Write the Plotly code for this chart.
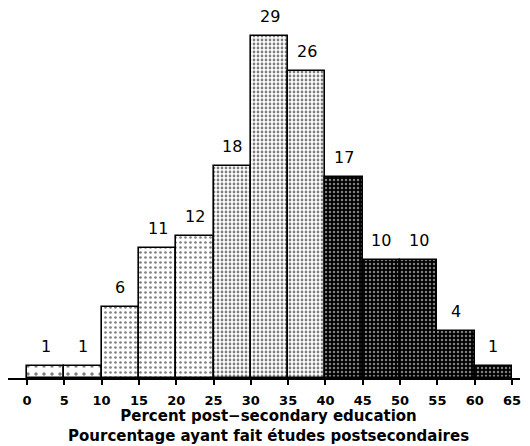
import plotly.graph_objects as go

bin_edges = [0, 5, 10, 15, 20, 25, 30, 35, 40, 45, 50, 55, 60, 65]
counts = [1, 1, 6, 11, 12, 18, 29, 26, 17, 10, 10, 4, 1]
tick_vals = [0, 5, 10, 15, 20, 25, 30, 35, 40, 45, 50, 55, 60, 65]
title_lines = ["Percent post\u2212secondary education",
               "Pourcentage ayant fait études postsecondaires"]

centers = [(a + b) / 2 for a, b in zip(bin_edges[:-1], bin_edges[1:])]
widths = [b - a for a, b in zip(bin_edges[:-1], bin_edges[1:])]

# shading groups: (lower bound inclusive, upper exclusive, bg, fg, tile size, solidity)
groups = [
    (0, 10, "white", "black", 8, 0.14),
    (10, 25, "white", "black", 5, 0.22),
    (25, 40, "white", "black", 4, 0.38),
    (40, 65, "black", "white", 4, 0.3),
]

FONT = "DejaVu Sans, sans-serif"
fig = go.Figure()
for lo, hi, bg, fg, size, sol in groups:
    idx = [i for i, e in enumerate(bin_edges[:-1]) if lo <= e < hi]
    fig.add_trace(go.Bar(
        x=[centers[i] for i in idx], y=[counts[i] for i in idx],
        width=[widths[i] for i in idx],
        marker=dict(
            color=bg,
            line=dict(color="black", width=1.6),
            pattern=dict(shape=".", bgcolor=bg, fgcolor=fg, size=size,
                         solidity=sol, fillmode="overlay"),
        ),
        hoverinfo="x+y",
    ))

for xc, c in zip(centers, counts):
    fig.add_annotation(x=xc, y=c, text=str(c), showarrow=False,
                       yanchor="bottom", yshift=8,
                       font=dict(family=FONT, size=16, color="black"))

fig.add_annotation(x=0.509, y=0, xref="paper", yref="paper",
                   text="<br>".join(title_lines), showarrow=False,
                   yanchor="middle", yshift=-48,
                   font=dict(family=FONT, size=15, color="black", weight="bold"))

# note: page body has 8px margin; figure is offset by (8, 8)
fig.update_layout(
    width=522, height=438,
    margin=dict(l=0, r=10, t=2, b=68),
    paper_bgcolor="white", plot_bgcolor="white",
    showlegend=False,
    barmode="overlay",
    bargap=0,
    font=dict(family=FONT, color="black", size=13),
)
fig.update_xaxes(
    range=[-2.546, 66.07],
    tickvals=tick_vals, ticktext=[str(v) for v in tick_vals],
    ticks="outside", ticklen=5, tickwidth=2, tickcolor="black",
    ticklabelstandoff=4,
    showline=True, linecolor="black", linewidth=2,
    showgrid=False, zeroline=False,
    tickfont=dict(size=13, family=FONT, weight="bold"),
)
fig.update_yaxes(range=[0, 31.2], visible=False)

fig.write_html("out.html")
